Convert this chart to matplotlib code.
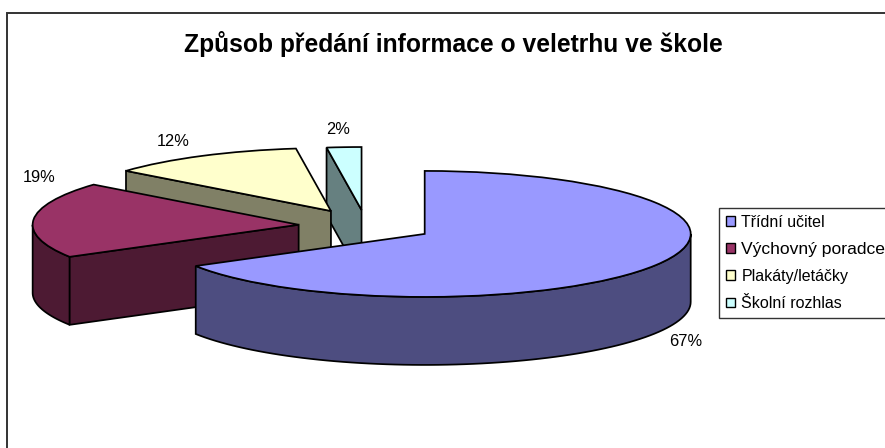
import numpy as np
import matplotlib
matplotlib.use("Agg")
import matplotlib.pyplot as plt
from matplotlib.patches import Polygon, Rectangle

plt.rcParams['font.family'] = ['Liberation Sans', 'DejaVu Sans']

title = "Způsob předání informace o veletrhu ve škole"
categories = ["Třídní učitel", "Výchovný poradce", "Plakáty/letáčky", "Školní rozhlas"]
values = [66.5, 19.5, 11.9, 2.1]
value_labels = ["67%", "19%", "12%", "2%"]
top_colors = ["#9999FF", "#993366", "#FFFFCC", "#CCFFFF"]
side_colors = ["#4D4D80", "#4D1A33", "#808066", "#668080"]
label_px = [(686, 341), (39, 177), (173, 141), (338, 129)]
draw_order = [20, 16, 12, 8]
explode = [0.254, 0.254, 0.272, 0.254]

W, H = 885, 448
CX, CY = 366.0, 226.0
RX, RY = 266.0, 63.0
DEPTH = 68.0 / RY
LW = 1.25

fig = plt.figure(figsize=(W / 100, H / 100), dpi=100, facecolor="white")
fig.add_artist(Rectangle((6.5 / W, -0.1), 1.1, 1.1 - 13.5 / H, transform=fig.transFigure,
                         fill=False, edgecolor="#333333", linewidth=1.4))

ax = fig.add_axes([0, 0, 1, 1])
wedges, _ = ax.pie(values, explode=explode, colors=top_colors, startangle=90,
                   counterclock=False, radius=1,
                   wedgeprops=dict(edgecolor="black", linewidth=LW, joinstyle="miter"))
ax.set_aspect("auto")
ax.set_xlim(-CX / RX, (W - CX) / RX)
ax.set_ylim((CY - H) / RY, CY / RY)
ax.patch.set_visible(False)

fracs = np.array(values) / sum(values)
starts = np.concatenate([[0], np.cumsum(fracs)[:-1]]) * 2 * np.pi
ends = np.cumsum(fracs) * 2 * np.pi

for i in range(len(values)):
    a, b = starts[i], ends[i]
    mid = (a + b) / 2
    ox, oy = explode[i] * np.sin(mid), explode[i] * np.cos(mid)
    order = draw_order[i]
    wedges[i].set_zorder(order + 1)

    def face(pts):
        ax.add_patch(Polygon(pts, closed=True, facecolor=side_colors[i], edgecolor="black",
                             linewidth=LW, joinstyle="miter", zorder=order))

    # outer rim: the part on the viewer's side (clockwise angle 90-270 deg)
    lo, hi = max(a, np.pi / 2), min(b, 3 * np.pi / 2)
    if hi > lo:
        t = np.linspace(lo, hi, 80)
        x, y = ox + np.sin(t), oy + np.cos(t)
        face(np.column_stack([np.r_[x, x[::-1]], np.r_[y, y[::-1] - DEPTH]]))
    # radial cut faces turned to the viewer
    if np.sin(a) < -1e-9:
        x, y = ox + np.sin(a), oy + np.cos(a)
        face([(ox, oy), (x, y), (x, y - DEPTH), (ox, oy - DEPTH)])
    if np.sin(b) > 1e-9:
        x, y = ox + np.sin(b), oy + np.cos(b)
        face([(ox, oy), (x, y), (x, y - DEPTH), (ox, oy - DEPTH)])

for s, (px, py) in zip(value_labels, label_px):
    fig.text(px / W, 1 - py / H, s, ha="center", va="center", fontsize=11.8, color="black")

fig.text(453 / W, 1 - 44 / H, title, ha="center", va="center", fontsize=17.7, fontweight="bold")

leg = fig.legend(wedges, categories, loc="upper left", bbox_to_anchor=(719 / W, 1 - 208 / H),
                 borderaxespad=0, fontsize=11.5, frameon=True, fancybox=False, framealpha=1,
                 edgecolor="#333333", handlelength=0.58, handleheight=0.58, handletextpad=0.4,
                 labelspacing=0.76, borderpad=0.42)
leg.get_frame().set_linewidth(1.0)
leg.get_texts()[1].set_fontsize(12.6)
for h in leg.legend_handles:
    h.set_linewidth(1.0)

fig.savefig("out.png", dpi=100)
